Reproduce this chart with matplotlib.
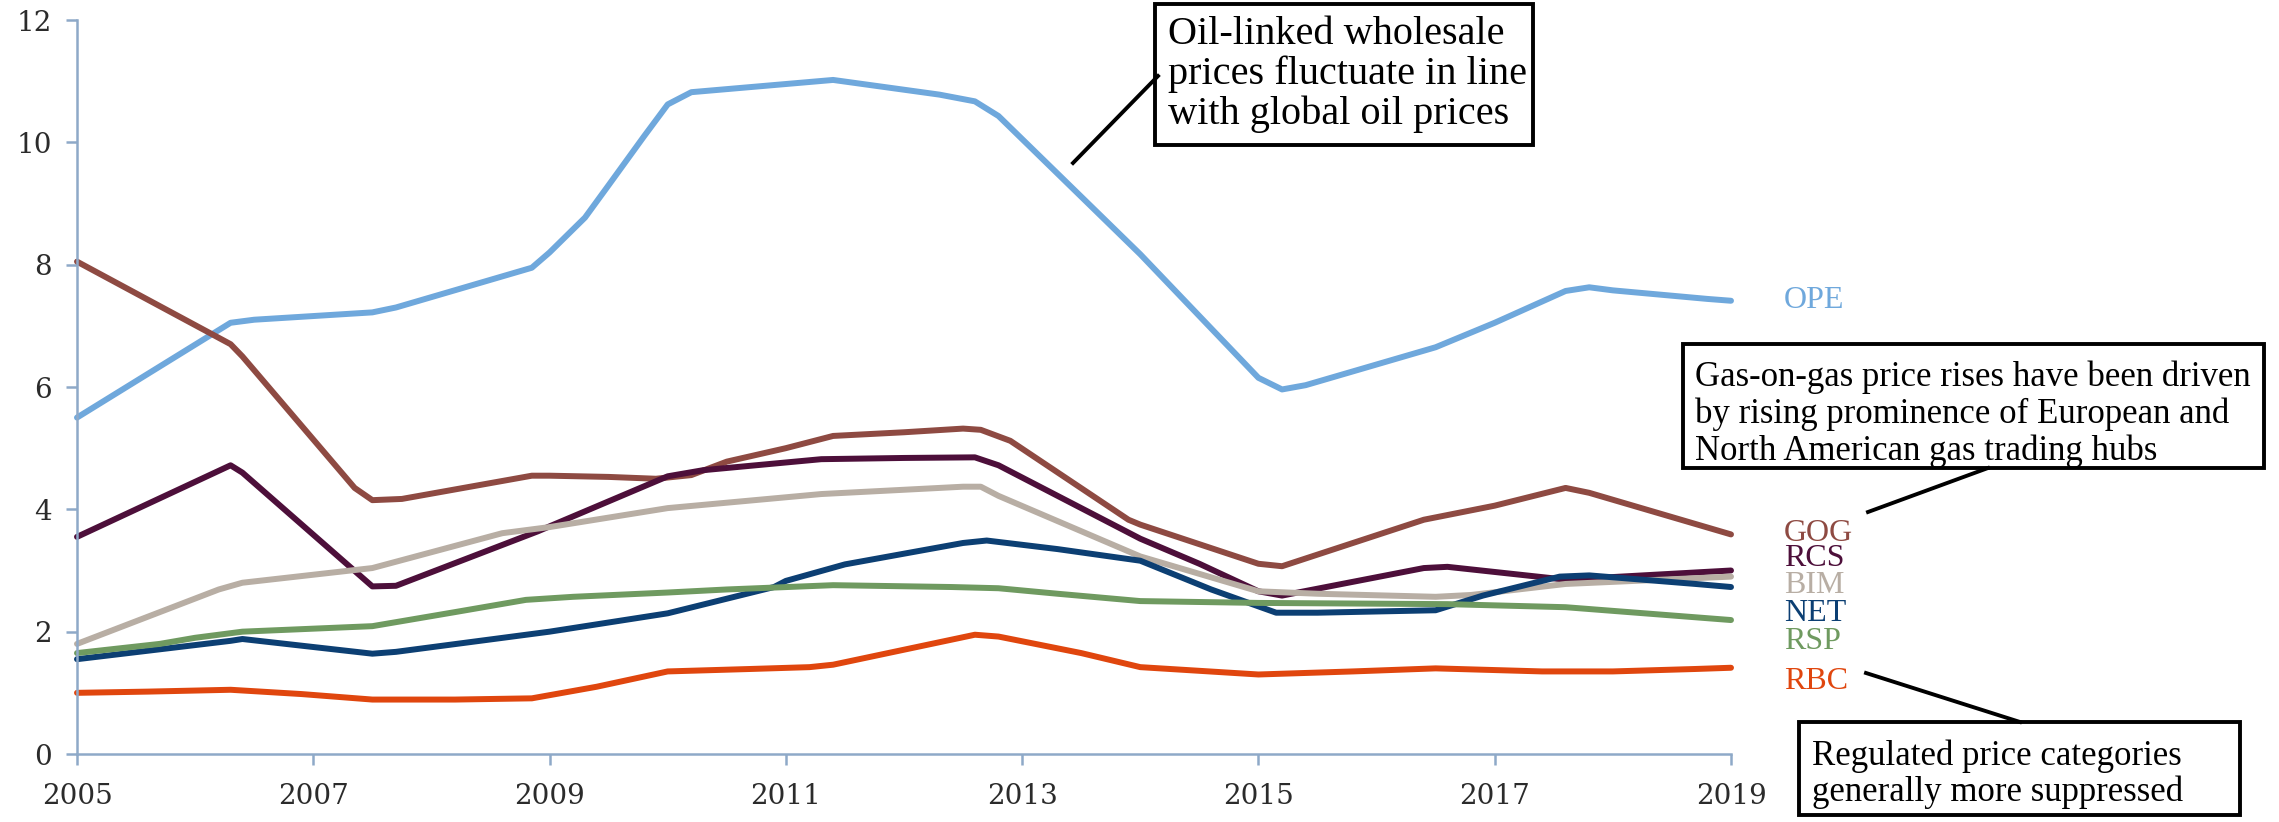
import matplotlib
matplotlib.use("Agg")
import matplotlib.pyplot as plt
from matplotlib.patches import Rectangle
from matplotlib.lines import Line2D

plt.rcParams["font.family"] = "DejaVu Serif"

# series (year, value)
ope_x = [2005.0, 2006.3, 2006.5, 2007.5, 2007.7, 2008.85, 2009.0, 2009.3, 2009.5, 2009.8, 2010.0, 2010.2,
         2011.4, 2012.3, 2012.6, 2012.8, 2014.0, 2015.0, 2015.2, 2015.4, 2016.5, 2017.0, 2017.6, 2017.8,
         2018.0, 2018.8, 2019.0]
ope_y = [5.5, 7.05, 7.1, 7.22, 7.3, 7.95, 8.2, 8.77, 9.3, 10.1, 10.62, 10.82,
         11.02, 10.78, 10.67, 10.43, 8.17, 6.15, 5.96, 6.03, 6.65, 7.05, 7.57, 7.63,
         7.58, 7.44, 7.41]

gog_x = [2005.0, 2006.3, 2006.4, 2007.35, 2007.5, 2007.75, 2008.85, 2009.0, 2009.5, 2009.9, 2010.2, 2010.5,
         2011.0, 2011.4, 2012.0, 2012.5, 2012.65, 2012.9, 2013.9, 2014.0, 2015.0, 2015.2, 2016.4, 2017.0,
         2017.6, 2017.8, 2019.0]
gog_y = [8.05, 6.7, 6.5, 4.35, 4.15, 4.17, 4.55, 4.55, 4.53, 4.5, 4.56, 4.78,
         5.0, 5.2, 5.26, 5.32, 5.3, 5.12, 3.83, 3.75, 3.11, 3.07, 3.83, 4.06,
         4.35, 4.27, 3.59]

rcs_x = [2005.0, 2006.3, 2006.4, 2007.5, 2007.7, 2008.9, 2010.0, 2010.3, 2011.3, 2012.0, 2012.6, 2012.8,
         2014.0, 2014.5, 2015.0, 2015.2, 2016.4, 2016.6, 2017.6, 2019.0]
rcs_y = [3.55, 4.72, 4.6, 2.74, 2.75, 3.64, 4.54, 4.64, 4.82, 4.84, 4.85, 4.72,
         3.52, 3.11, 2.66, 2.59, 3.04, 3.06, 2.85, 3.0]

bim_x = [2005.0, 2006.2, 2006.4, 2007.5, 2008.6, 2009.0, 2010.0, 2011.3, 2012.5, 2012.65, 2012.8, 2014.0,
         2015.0, 2015.5, 2016.5, 2016.8, 2017.6, 2019.0]
bim_y = [1.8, 2.69, 2.8, 3.04, 3.61, 3.71, 4.02, 4.25, 4.37, 4.37, 4.22, 3.23,
         2.66, 2.62, 2.57, 2.6, 2.78, 2.9]

net_x = [2005.0, 2006.3, 2006.4, 2007.5, 2007.7, 2009.0, 2010.0, 2010.9, 2011.0, 2011.5, 2012.5, 2012.7,
         2013.3, 2014.0, 2014.6, 2015.15, 2015.5, 2016.5, 2016.9, 2017.55, 2017.8, 2018.7, 2019.0]
net_y = [1.55, 1.85, 1.88, 1.64, 1.67, 2.0, 2.3, 2.73, 2.83, 3.1, 3.45, 3.49,
         3.35, 3.16, 2.69, 2.31, 2.31, 2.35, 2.59, 2.9, 2.92, 2.78, 2.73]

rsp_x = [2005.0, 2005.7, 2006.0, 2006.4, 2007.5, 2008.2, 2008.8, 2009.2, 2010.0, 2010.5, 2011.4, 2012.4,
         2012.8, 2013.3, 2014.0, 2015.0, 2016.6, 2017.6, 2019.0]
rsp_y = [1.65, 1.8, 1.9, 2.0, 2.09, 2.32, 2.52, 2.57, 2.64, 2.69, 2.76, 2.73,
         2.71, 2.62, 2.5, 2.47, 2.45, 2.4, 2.19]

rbc_x = [2005.0, 2005.6, 2006.3, 2006.9, 2007.5, 2008.2, 2008.85, 2009.4, 2010.0, 2010.7, 2011.2, 2011.4,
         2012.6, 2012.8, 2013.5, 2014.0, 2014.5, 2015.0, 2015.8, 2016.5, 2017.4, 2018.0, 2018.7, 2019.0]
rbc_y = [1.0, 1.02, 1.05, 0.98, 0.89, 0.89, 0.91, 1.1, 1.35, 1.39, 1.42, 1.46,
         1.95, 1.92, 1.65, 1.42, 1.36, 1.3, 1.35, 1.4, 1.35, 1.35, 1.39, 1.41]

names = ["OPE", "GOG", "RCS", "BIM", "NET", "RSP", "RBC"]
colors = ["#6fa8dc", "#8e4a42", "#4d0f3a", "#b8aea4", "#0c3f73", "#6f9a60", "#e0460e"]
label_y = [7.41, 3.61, 3.2, 2.76, 2.3, 1.84, 1.19]

series = [(ope_x, ope_y), (gog_x, gog_y), (rcs_x, rcs_y), (bim_x, bim_y),
          (net_x, net_y), (rsp_x, rsp_y), (rbc_x, rbc_y)]

W, H = 2279, 822
fig = plt.figure(figsize=(W / 100, H / 100), dpi=100)
ax = fig.add_axes([77 / W, 1 - 754 / H, (1731 - 77) / W, (754 - 20) / H])

for (xs, ys), c in zip(series, colors):
    ax.plot(xs, ys, color=c, lw=4.3, solid_capstyle="round", solid_joinstyle="round", clip_on=False)

for name, c, ly in zip(names, colors, label_y):
    ax.text(2019.45, ly, name, color=c, fontsize=23, family="Liberation Serif",
            va="center", ha="left", clip_on=False)

ax.set_xlim(2005, 2019)
ax.set_ylim(0, 12)
ax.set_xticks(range(2005, 2020, 2))
ax.set_yticks(range(0, 13, 2))
spine_col = "#8ea9c8"
for s in ["top", "right"]:
    ax.spines[s].set_visible(False)
for s in ["left", "bottom"]:
    ax.spines[s].set_color(spine_col)
    ax.spines[s].set_linewidth(1.8)
ax.tick_params(colors=spine_col, labelcolor="#2b2b2b", labelsize=20,
               length=8, width=1.8, direction="out")
ax.tick_params(axis="x", pad=13)
ax.tick_params(axis="y", pad=10)

# annotation boxes (figure pixel coords)
def box(x0, y0, x1, y1, tx, ty, text, size, spacing):
    fig.patches.append(Rectangle((x0 / W, 1 - y1 / H), (x1 - x0) / W, (y1 - y0) / H,
                                 transform=fig.transFigure, fc="white", ec="black", lw=2.8))
    fig.text(tx / W, 1 - ty / H, text, fontsize=size, family="Liberation Serif",
             va="top", ha="left", linespacing=spacing)

def leader(x0, y0, x1, y1):
    fig.lines.append(Line2D([x0 / W, x1 / W], [1 - y0 / H, 1 - y1 / H],
                            transform=fig.transFigure, color="black", lw=2.8))

leader(1158, 76, 1073, 163)
box(1155, 4, 1533, 145, 1168, 16, "Oil-linked wholesale\nprices fluctuate in line\nwith global oil prices",
    29, 1.08)
leader(1868, 512, 1988, 468)
box(1683, 344, 2264, 468, 1695, 360,
    "Gas-on-gas price rises have been driven\nby rising prominence of European and\nNorth American gas trading hubs",
    25, 1.14)
leader(1866, 673, 2020, 722)
box(1799, 722, 2240, 815, 1812, 739, "Regulated price categories\ngenerally more suppressed", 25, 1.1)

fig.savefig("out.png", dpi=100)
